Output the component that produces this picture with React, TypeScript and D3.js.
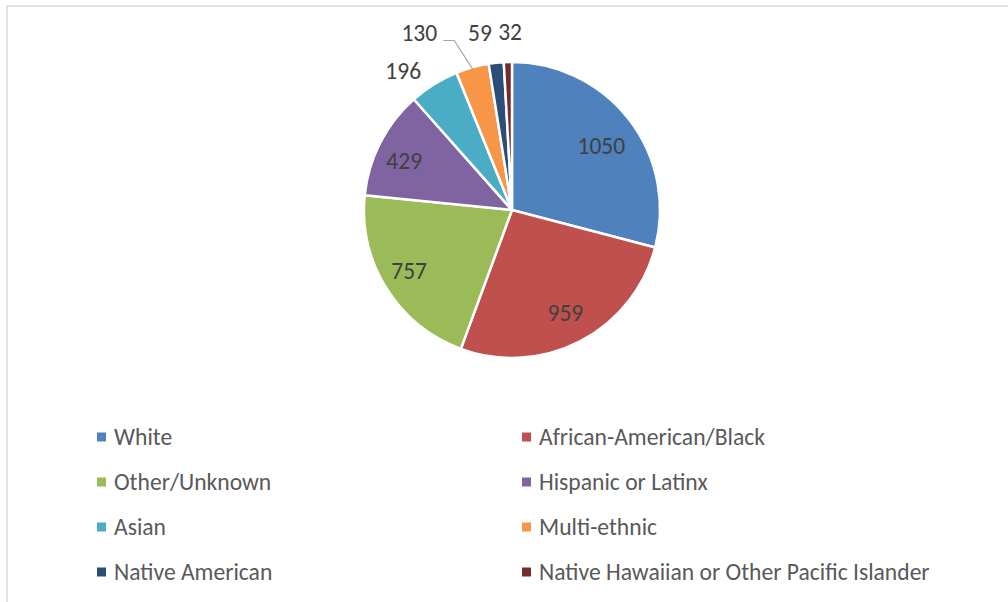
import React from "react";
import * as d3 from "d3";

const categories = [
  "White",
  "African-American/Black",
  "Other/Unknown",
  "Hispanic or Latinx",
  "Asian",
  "Multi-ethnic",
  "Native American",
  "Native Hawaiian or Other Pacific Islander",
];
const values = [1050, 959, 757, 429, 196, 130, 59, 32];
const colors = ["#4F81BD", "#C0504D", "#9BBB59", "#8064A2", "#4BACC6", "#F79646", "#2C4D75", "#772C2A"];
// label placement: inside or outside, with pixel nudges (Excel best-fit)
const labelInside = [true, true, true, true, false, false, false, false];
const labelNudge: [number, number][] = [[-2, 7], [0, 1], [-5, 0], [-5, 4], [-15, 12], [-45, -6], [-13, 0], [3, 0]];

const W = 1008;
const H = 602;
const cx = 512;
const cy = 210;
const R = 148;
const FONT = "Carlito, Calibri, Lato, sans-serif";

export default function App() {
  const pie = d3.pie<number>().sort(null).value((d) => d)(values);
  const arc = d3.arc<d3.PieArcDatum<number>>().innerRadius(0).outerRadius(R);
  const polar = (a: number, r: number): [number, number] => [Math.sin(a) * r, -Math.cos(a) * r];

  const legendCols = [97, 522];
  const legendRow0 = 437;
  const legendStep = 45;

  return (
    <svg width={W} height={H} style={{ position: "absolute", left: 0, top: 0, background: "#fff" }}>
      <rect x={7} y={6} width={W + 20} height={H + 20} fill="#fff" stroke="#D9D9D9" strokeWidth={1.5} />
      <g transform={`translate(${cx},${cy})`}>
        {pie.map((p, i) => (
          <path key={i} d={arc(p) || ""} fill={colors[i]} stroke="#fff" strokeWidth={2.5} strokeLinejoin="round" />
        ))}
        {pie.map((p, i) => {
          const mid = (p.startAngle + p.endAngle) / 2;
          const [x, y] = labelInside[i] ? polar(mid, R * 0.78) : polar(mid, R + 30);
          return (
            <text key={"l" + i} x={x + labelNudge[i][0]} y={y + labelNudge[i][1]} textAnchor="middle" dominantBaseline="central"
              fontFamily={FONT} fontSize={23.5} fill="#404040">{values[i]}</text>
          );
        })}
        {(() => {
          // leader line for the Multi-ethnic label
          const p = pie[5];
          const mid = (p.startAngle + p.endAngle) / 2;
          const [ex, ey] = polar(mid, R - 2);
          const [lx, ly] = polar(mid, R + 30);
          const tx = lx + labelNudge[5][0];
          const ty = ly + labelNudge[5][1];
          const kneeX = tx + 35;
          const kneeY = ty + 8;
          return (
            <polyline points={`${ex},${ey} ${kneeX},${kneeY} ${tx + 24},${kneeY}`} fill="none" stroke="#A6A6A6" strokeWidth={1.2} />
          );
        })()}
      </g>
      {categories.map((c, i) => {
        const col = i % 2;
        const row = Math.floor(i / 2);
        const x = legendCols[col];
        const y = legendRow0 + row * legendStep;
        return (
          <g key={"lg" + i}>
            <rect x={x} y={y - 4.5} width={9} height={9} fill={colors[i]} />
            <text x={x + 17} y={y} dominantBaseline="central" fontFamily={FONT} fontSize={23.6} fill="#595959">{c}</text>
          </g>
        );
      })}
    </svg>
  );
}
